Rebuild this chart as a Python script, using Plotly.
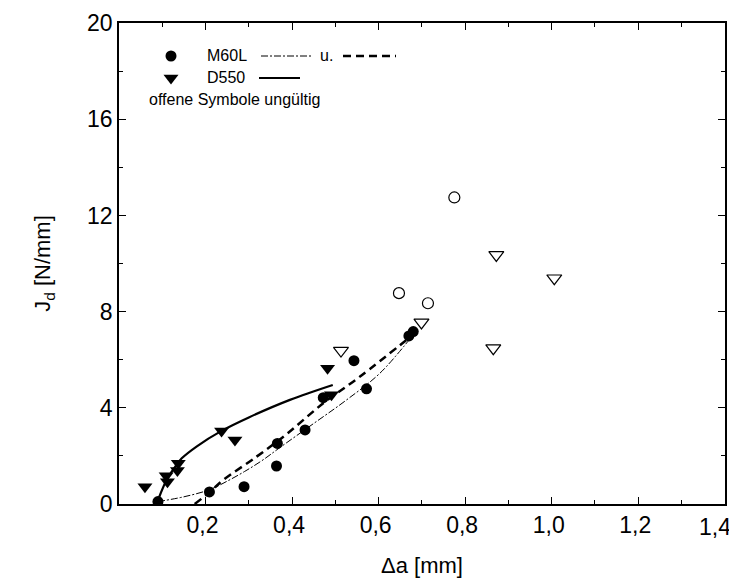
import plotly.graph_objects as go

# ---- data ----
m60l_x = [0.09, 0.209, 0.289, 0.364, 0.366, 0.43, 0.472, 0.543, 0.572, 0.67, 0.68]
m60l_y = [0.10, 0.50, 0.72, 1.58, 2.52, 3.08, 4.42, 5.96, 4.79, 6.99, 7.17]

d550_x = [0.06, 0.109, 0.112, 0.135, 0.137, 0.237, 0.268, 0.482, 0.491]
d550_y = [0.72, 1.17, 0.93, 1.39, 1.69, 3.04, 2.66, 5.65, 4.54]

m60l_inv_x = [0.647, 0.714, 0.775]
m60l_inv_y = [8.77, 8.35, 12.75]

d550_inv_x = [0.513, 0.699, 0.865, 0.872, 1.006]
d550_inv_y = [6.38, 7.55, 6.48, 10.36, 9.39]

# fitted curves
fit_dashdot_x = [0.09, 0.15, 0.21, 0.25, 0.29, 0.33, 0.372, 0.45, 0.526, 0.603, 0.676]
fit_dashdot_y = [0.10, 0.30, 0.60, 0.95, 1.35, 1.80, 2.35, 3.35, 4.33, 5.44, 6.95]

fit_dashed_x = [0.175, 0.21, 0.241, 0.318, 0.387, 0.472, 0.557, 0.68]
fit_dashed_y = [0.0, 0.50, 1.0, 1.97, 2.90, 4.19, 5.30, 7.05]

fit_solid_x = [0.092, 0.11, 0.13, 0.145, 0.18, 0.237, 0.30, 0.395, 0.494]
fit_solid_y = [0.25, 1.0, 1.55, 1.90, 2.40, 3.04, 3.60, 4.33, 4.95]

x_ticks = [0.2, 0.4, 0.6, 0.8, 1.0, 1.2, 1.4]
x_ticktext = ["0,2", "0,4", "0,6", "0,8", "1,0", "1,2", "1,4"]
y_ticks = [0, 4, 8, 12, 16, 20]

legend_keys = ["M60L", "D550"]

FONT = "Liberation Sans, Arial, sans-serif"

# page body has an 8px default margin -> figure is drawn 8px smaller/offset
OFF = 8
W, H = 737 - OFF, 586 - OFF
L, R, T, B = 119 - OFF, 725 - OFF, 23 - OFF, 504 - OFF

fig = go.Figure()

fig.add_trace(go.Scatter(x=fit_dashdot_x, y=fit_dashdot_y, mode="lines",
                         line=dict(color="black", width=1, dash="7px,2px,2px,2px", shape="spline"),
                         hoverinfo="skip"))
fig.add_trace(go.Scatter(x=fit_dashed_x, y=fit_dashed_y, mode="lines",
                         line=dict(color="black", width=2.5, dash="8px,5px", shape="spline"),
                         hoverinfo="skip"))
fig.add_trace(go.Scatter(x=fit_solid_x, y=fit_solid_y, mode="lines",
                         line=dict(color="black", width=2.2, shape="spline"),
                         hoverinfo="skip"))

fig.add_trace(go.Scatter(x=m60l_x, y=m60l_y, mode="markers",
                         marker=dict(symbol="circle", size=11, color="black")))
fig.add_trace(go.Scatter(x=d550_x, y=d550_y, mode="markers",
                         marker=dict(symbol="triangle-down", size=13, color="black")))
fig.add_trace(go.Scatter(x=m60l_inv_x, y=m60l_inv_y, mode="markers",
                         marker=dict(symbol="circle-open", size=11, color="black",
                                     line=dict(width=1.2, color="black"))))
fig.add_trace(go.Scatter(x=d550_inv_x, y=d550_inv_y, mode="markers",
                         marker=dict(symbol="triangle-down-open", size=13, color="black",
                                     line=dict(width=1.2, color="black"))))

# ---- custom legend (page pixel positions converted to paper coordinates) ----
def px(x):
    return (x - OFF - L) / (R - L)
def py(y):
    return (B - (y - OFF)) / (B - T)

r1, r2, r3 = 56, 78, 99

fig.add_trace(go.Scatter(x=[px(171)], y=[py(r1)], xaxis="x2", yaxis="y2", mode="markers",
                         marker=dict(symbol="circle", size=11, color="black"), hoverinfo="skip",
                         name=legend_keys[0]))
fig.add_trace(go.Scatter(x=[px(171)], y=[py(r2)], xaxis="x2", yaxis="y2", mode="markers",
                         marker=dict(symbol="triangle-down", size=13, color="black"), hoverinfo="skip",
                         name=legend_keys[1]))

LF = dict(size=16, family=FONT, color="black")
TF = dict(size=23, family=FONT, color="black")
ann = [
    dict(x=px(205), y=py(r1), text=legend_keys[0], xanchor="left", font=LF,
         xref="paper", yref="paper", yanchor="middle"),
    dict(x=px(318), y=py(r1), text="u.", xanchor="left", font=LF,
         xref="paper", yref="paper", yanchor="middle"),
    dict(x=px(205), y=py(r2), text=legend_keys[1], xanchor="left", font=LF,
         xref="paper", yref="paper", yanchor="middle"),
    dict(x=px(147), y=py(r3), text="offene Symbole ungültig", xanchor="left", font=LF,
         xref="paper", yref="paper", yanchor="middle"),
    # last x tick label, nudged left so it stays inside the page (as in the reference)
    dict(x=x_ticks[-1], y=0, xref="x", yref="paper", text=x_ticktext[-1], font=TF,
         xanchor="right", yanchor="top", xshift=8, yshift=-8),
]
for a in ann:
    a.update(showarrow=False)
fig.update_layout(annotations=ann)

shapes = [
    dict(type="line", xref="paper", yref="paper", x0=px(261), x1=px(312), y0=py(r1), y1=py(r1),
         line=dict(color="black", width=1, dash="7px,2px,2px,2px")),
    dict(type="line", xref="paper", yref="paper", x0=px(343), x1=px(396), y0=py(r1), y1=py(r1),
         line=dict(color="black", width=2.5, dash="8px,5px")),
    dict(type="line", xref="paper", yref="paper", x0=px(259), x1=px(300), y0=py(r2), y1=py(r2),
         line=dict(color="black", width=2.2)),
]
fig.update_layout(shapes=shapes)

axis_common = dict(showline=True, linecolor="black", linewidth=1.5, mirror="allticks",
                   ticks="inside", ticklen=7, tickwidth=1.2, tickcolor="black",
                   showgrid=False, zeroline=False, automargin=False,
                   tickfont=TF)

fig.update_xaxes(range=[0, 1.4005], tickvals=x_ticks,
                 ticktext=x_ticktext[:-1] + [""],
                 ticklabelshift=-3,
                 minor=dict(dtick=0.1, tick0=0, ticks="inside", ticklen=4, tickcolor="black", tickwidth=1),
                 title=dict(text="Δa [mm]", font=dict(size=22, family=FONT, color="black"), standoff=20),
                 **axis_common)
fig.update_yaxes(range=[0, 20.005], tickvals=y_ticks,
                 minor=dict(dtick=2, tick0=0, ticks="inside", ticklen=4, tickcolor="black", tickwidth=1),
                 title=dict(text="J<sub>d</sub> [N/mm]", font=dict(size=22, family=FONT, color="black"), standoff=30),
                 **axis_common)

fig.update_layout(
    xaxis2=dict(overlaying="x", range=[0, 1], visible=False, fixedrange=True),
    yaxis2=dict(overlaying="y", range=[0, 1], visible=False, fixedrange=True),
)

fig.update_layout(width=W, height=H, showlegend=False,
                  plot_bgcolor="white", paper_bgcolor="white",
                  margin=dict(l=L, r=W - R, t=T, b=H - B))

fig.write_html("out.html")
